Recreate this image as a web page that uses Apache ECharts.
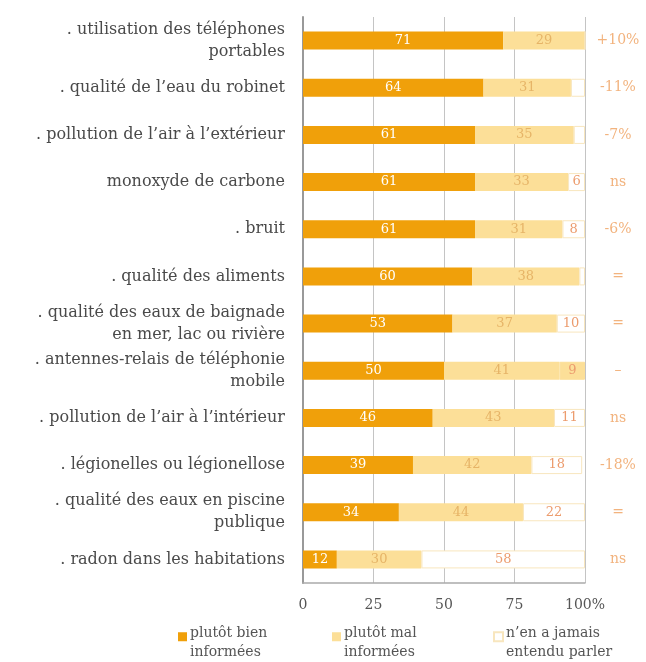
<!DOCTYPE html>
<html>
<head>
<meta charset="utf-8">
<script src="https://cdn.jsdelivr.net/npm/echarts@6/dist/echarts.min.js"></script>
<style>html,body{margin:0;padding:0;background:#fff}#c{width:646px;height:662px}</style>
</head>
<body>
<div id="c"></div>
<script>
const categories = [
  '. utilisation des téléphones\nportables',
  '. qualité de l\u2019eau du robinet',
  '. pollution de l\u2019air à l\u2019extérieur',
  'monoxyde de carbone',
  '. bruit',
  '. qualité des aliments',
  '. qualité des eaux de baignade\nen mer, lac ou rivière',
  '. antennes-relais de téléphonie\nmobile',
  '. pollution de l\u2019air à l\u2019intérieur',
  '. légionelles ou légionellose',
  '. qualité des eaux en piscine\npublique',
  '. radon dans les habitations'
];
const bienInformes = [71, 64, 61, 61, 61, 60, 53, 50, 46, 39, 34, 12];
const malInformes  = [29, 31, 35, 33, 31, 38, 37, 41, 43, 42, 44, 30];
const jamaisEntendu = [0, 5, 4, 6, 8, 2, 10, 9, 11, 18, 22, 58];
const evolution = ['+10%', '-11%', '-7%', 'ns', '-6%', '=', '=', '\u2013', 'ns', '-18%', '=', 'ns'];
const seriesNames = ['plutôt bien\ninformées', 'plutôt mal\ninformées', 'n\u2019en a jamais\nentendu parler'];
const xTicks = [0, 25, 50, 75, 100];

const serif = 'DejaVu Serif';
const cDark = '#F0A00A', cLight = '#FCDF98', cWhite = '#FFFFFF';

const chart = echarts.init(document.getElementById('c'), null, {renderer: 'canvas'});
const iconPath = 'path://M0,0L10,0L10,10L0,10Z M0,24L0.01,24';
function legendAt(name, left) {
  return {
    data: [name], left: left, top: 619, orient: 'horizontal',
    itemWidth: 9, itemHeight: 22, icon: iconPath,
    itemGap: 4,
    textStyle: {fontFamily: serif, fontSize: 14, color: '#555', lineHeight: 19, padding: [0, 0, 0, -2]},
    selectedMode: false
  };
}
chart.setOption({
  animation: false,
  backgroundColor: '#fff',
  grid: {left: 303, right: 61, top: 17, bottom: 79},
  legend: [legendAt(seriesNames[0], 173), legendAt(seriesNames[1], 327), legendAt(seriesNames[2], 488)],
  xAxis: {
    type: 'value', min: 0, max: 100, interval: 25,
    axisLine: {show: true, onZero: false, lineStyle: {color: '#aaa', width: 1.5}},
    axisTick: {show: false},
    splitLine: {show: true, lineStyle: {color: '#c4c4c4', width: 1}},
    axisLabel: {fontFamily: serif, fontSize: 14, color: '#555', margin: 15,
      formatter: v => v === 100 ? '100%' : String(v)}
  },
  yAxis: [{
    type: 'category', data: categories, inverse: true,
    axisLine: {show: true, lineStyle: {color: '#999', width: 2}},
    axisTick: {show: false},
    axisLabel: {fontFamily: serif, fontSize: 16, color: '#4a4a4a', margin: 18, lineHeight: 22, align: 'right'}
  }, {
    type: 'category', data: evolution, inverse: true, position: 'right',
    axisLine: {show: false}, axisTick: {show: false},
    axisLabel: {fontFamily: serif, fontSize: 14, color: '#F2B37E', margin: 33, align: 'center'}
  }],
  series: [
    {
      name: seriesNames[0], type: 'bar', stack: 's', barWidth: 18, data: bienInformes,
      itemStyle: {color: cDark},
      label: {show: true, position: 'inside', color: '#fff', fontFamily: serif, fontSize: 13}
    },
    {
      name: seriesNames[1], type: 'bar', stack: 's', barWidth: 18, data: malInformes,
      itemStyle: {color: cLight},
      label: {show: true, position: 'inside', color: '#E6B467', fontFamily: serif, fontSize: 13}
    },
    {
      name: seriesNames[2], type: 'bar', stack: 's', barWidth: 18,
      data: jamaisEntendu.map((v, i) => i === 7 ? {value: v, itemStyle: {color: cLight, borderColor: cLight}} : v),
      itemStyle: {color: cWhite, borderColor: '#F8E6BE', borderWidth: 1},
      label: {show: true, position: 'inside', color: '#EC9C6E', fontFamily: serif, fontSize: 13,
        formatter: p => p.value >= 6 ? String(p.value) : ''}
    }
  ]
});
</script>
</body>
</html>
